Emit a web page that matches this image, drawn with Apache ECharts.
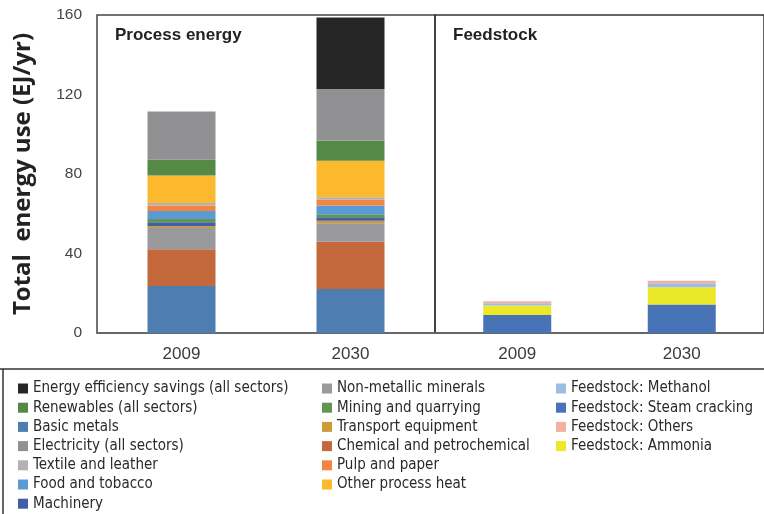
<!DOCTYPE html>
<html>
<head>
    <meta charset="UTF-8">
    <title>Total energy use</title>
    <script src="https://cdn.jsdelivr.net/npm/echarts@6/dist/echarts.min.js"></script>
    <style>
        html, body { margin: 0; padding: 0; background: #fff; }
        #main { width: 764px; height: 514px; }
    </style>
</head>
<body>
<div id="main"></div>
<script>
    // categories and tick labels
    var years = ['2009', '2030'];
    var yTicks = [0, 40, 80, 120, 160];

    // process energy, EJ/yr, stacked from the bottom
    var basicMetals = [23.6, 22.1];
    var chemical = [18.5, 23.8];
    var nonMetallic = [10.7, 9.3];
    var transportEquip = [0.9, 1.3];
    var machinery = [2.0, 1.8];
    var mining = [1.7, 1.5];
    var foodTobacco = [4.0, 4.4];
    var pulpPaper = [2.7, 2.9];
    var textile = [1.3, 1.2];
    var otherHeat = [13.9, 18.4];
    var renewables = [7.9, 10.1];
    var electricity = [24.3, 26.0];
    var efficiency = [null, 35.9];

    // feedstock, EJ/yr
    var steamCracking = [9.1, 14.4];
    var ammonia = [4.7, 8.6];
    var methanol = [1.2, 2.0];
    var feedOthers = [1.0, 1.3];

    var processSeries = [
        ['Basic metals', basicMetals, '#4e7eb1'],
        ['Chemical and petrochemical', chemical, '#c2683a'],
        ['Non-metallic minerals', nonMetallic, '#9a9a9d'],
        ['Transport equipment', transportEquip, '#cf9a36'],
        ['Machinery', machinery, '#3f5fa8'],
        ['Mining and quarrying', mining, '#5f9650'],
        ['Food and tobacco', foodTobacco, '#5b9bd5'],
        ['Pulp and paper', pulpPaper, '#f58440'],
        ['Textile and leather', textile, '#b2b2b4'],
        ['Other process heat', otherHeat, '#fdb92d'],
        ['Renewables (all sectors)', renewables, '#548a46'],
        ['Electricity (all sectors)', electricity, '#919193'],
        ['Energy efficiency savings (all sectors)', efficiency, '#262626']
    ];
    var feedSeries = [
        ['Feedstock: Steam cracking', steamCracking, '#4873b6'],
        ['Feedstock: Ammonia', ammonia, '#ebe82a'],
        ['Feedstock: Methanol', methanol, '#9dbde3'],
        ['Feedstock: Others', feedOthers, '#f5b0a0']
    ];

    var series = [];
    processSeries.forEach(function (s) {
        series.push({
            name: s[0], type: 'bar', stack: 'process', data: s[1],
            xAxisIndex: 0, yAxisIndex: 0, barWidth: 68,
            itemStyle: { color: s[2] }
        });
    });
    feedSeries.forEach(function (s) {
        series.push({
            name: s[0], type: 'bar', stack: 'feed', data: s[1],
            xAxisIndex: 1, yAxisIndex: 1, barWidth: 68,
            itemStyle: { color: s[2] }
        });
    });

    // narrow font for the legend, like the original
    var legendFont = { fontSize: 15, lineHeight: 15, color: '#2a2a2a',
        fontFamily: '"DejaVu Sans Condensed", "Liberation Sans Narrow", "Liberation Sans", sans-serif' };
    function makeLegend(left, names) {
        return {
            orient: 'vertical', left: left, top: 381, bottom: 0, padding: 0,
            itemWidth: 10, itemHeight: 10, itemGap: 4.2,
            icon: 'rect', selectedMode: false,
            textStyle: legendFont, data: names
        };
    }
    var xLabel = { fontSize: 17, color: '#3a3a3a', margin: 13, fontFamily: 'Liberation Sans' };

    var chart = echarts.init(document.getElementById('main'));
    var option = {
        animation: false,
        backgroundColor: '#fff',
        title: [
            { text: 'Process energy', left: 110, top: 22,
              textStyle: { fontSize: 17, fontWeight: 'bold', color: '#222', fontFamily: 'Liberation Sans' } },
            { text: 'Feedstock', left: 448, top: 22,
              textStyle: { fontSize: 17, fontWeight: 'bold', color: '#222', fontFamily: 'Liberation Sans' } }
        ],
        grid: [
            { left: 97, top: 15, width: 338, height: 318, show: true,
              borderColor: '#444', borderWidth: 1.5, backgroundColor: 'transparent' },
            { left: 435, top: 15, width: 342, height: 318, show: true,
              borderColor: '#333', borderWidth: 1.5, backgroundColor: 'transparent' }
        ],
        xAxis: [
            { type: 'category', gridIndex: 0, data: years,
              axisLine: { lineStyle: { color: '#666', width: 1.5 } }, axisTick: { show: false },
              axisLabel: xLabel },
            { type: 'category', gridIndex: 1, data: years,
              axisLine: { lineStyle: { color: '#666', width: 1.5 } }, axisTick: { show: false },
              axisLabel: xLabel }
        ],
        yAxis: [
            { type: 'value', gridIndex: 0, min: yTicks[0], max: yTicks[yTicks.length - 1], interval: 40,
              splitLine: { show: false }, axisLine: { show: false }, axisTick: { show: false },
              axisLabel: { fontSize: 15.5, color: '#444', margin: 15, fontFamily: 'Liberation Sans' },
              name: 'Total  energy use (EJ/yr)', nameLocation: 'middle', nameGap: 62,
              nameTextStyle: { fontSize: 24, fontWeight: 'bold', color: '#222', fontFamily: 'Open Sans' } },
            { type: 'value', gridIndex: 1, min: yTicks[0], max: yTicks[yTicks.length - 1], interval: 40,
              show: false, splitLine: { show: false } }
        ],
        legend: [
            makeLegend(18, ['Energy efficiency savings (all sectors)', 'Renewables (all sectors)', 'Basic metals',
                'Electricity (all sectors)', 'Textile and leather', 'Food and tobacco', 'Machinery']),
            makeLegend(322, ['Non-metallic minerals', 'Mining and quarrying', 'Transport equipment',
                'Chemical and petrochemical', 'Pulp and paper', 'Other process heat']),
            makeLegend(556, ['Feedstock: Methanol', 'Feedstock: Steam cracking', 'Feedstock: Others',
                'Feedstock: Ammonia'])
        ],
        graphic: [
            { type: 'line', shape: { x1: 0, y1: 369, x2: 764, y2: 369 },
              style: { stroke: '#333', lineWidth: 1.5 } },
            { type: 'line', shape: { x1: 3, y1: 369, x2: 3, y2: 514 },
              style: { stroke: '#333', lineWidth: 1.5 } }
        ],
        series: series
    };
    chart.setOption(option);
</script>
</body>
</html>
